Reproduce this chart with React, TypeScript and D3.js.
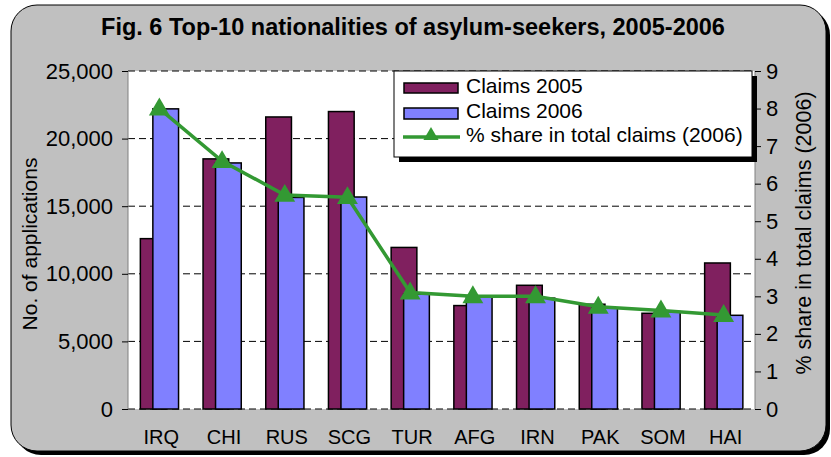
import { useEffect, useRef } from 'react';
import { scaleBand, scaleLinear, select, axisLeft, axisRight, line } from 'd3';

const categories = ['IRQ', 'CHI', 'RUS', 'SCG', 'TUR', 'AFG', 'IRN', 'PAK', 'SOM', 'HAI'];
const claims2005 = [12600, 18500, 21600, 22000, 11950, 7650, 9150, 7750, 7080, 10800];
const claims2006 = [22200, 18200, 15650, 15680, 8500, 8300, 8200, 7470, 7200, 6930];
const share2006 = [8.0, 6.6, 5.7, 5.64, 3.1, 3.0, 3.0, 2.72, 2.62, 2.5];
const leftTicks = [0, 5000, 10000, 15000, 20000, 25000];
const rightTicks = [0, 1, 2, 3, 4, 5, 6, 7, 8, 9];

const W = 831;
const H = 457;
const plot = { left: 128, right: 755, top: 71, bottom: 409 };
const font = '"Liberation Sans", Arial, sans-serif';

export default function App() {
    const leftRef = useRef(null);
    const rightRef = useRef(null);

    const x = scaleBand().domain(categories).range([plot.left, plot.right]).padding(0);
    const y = scaleLinear().domain([0, 25000]).range([plot.bottom, plot.top]);
    const y2 = scaleLinear().domain([0, 9]).range([plot.bottom, plot.top]);

    const step = x.step();
    const barW = step * 0.41;
    const center = (c) => x(c) + step / 2;

    const path = line()
        .x((d, i) => center(categories[i]))
        .y((d) => y2(d));

    useEffect(() => {
        const fmt = (v) => v.toLocaleString('en-US');
        const l = select(leftRef.current)
            .attr('transform', `translate(${plot.left},0)`)
            .call(axisLeft(y).tickValues(leftTicks).tickFormat(fmt).tickSize(6).tickPadding(9));
        l.select('.domain').attr('stroke', '#808080').attr('d', `M0,${plot.top}V${plot.bottom}`);
        l.selectAll('line').attr('stroke', '#000');
        l.selectAll('text').attr('font-family', font).attr('font-size', 22).attr('fill', '#000');

        const r = select(rightRef.current)
            .attr('transform', `translate(${plot.right},0)`)
            .call(axisRight(y2).tickValues(rightTicks).tickSize(6).tickPadding(5));
        r.select('.domain').attr('stroke', '#808080').attr('d', `M0,${plot.top}V${plot.bottom}`);
        r.selectAll('line').attr('stroke', '#000');
        r.selectAll('text').attr('font-family', font).attr('font-size', 22).attr('fill', '#000');
    }, []);

    const tri = (cx, cy, s) => `M${cx},${cy - s}L${cx + s * 0.95},${cy + s * 0.62}L${cx - s * 0.95},${cy + s * 0.62}Z`;

    return (
        <svg width={W} height={H} style={{ position: 'absolute', left: 0, top: 0 }}>
            {/* frame with shadow */}
            <rect x={15} y={9} width={815} height={446} rx={26} fill="#000" />
            <rect x={11} y={5} width={815} height={446} rx={26} fill="#C0C0C0" stroke="#000" strokeWidth={1} />

            <text x={413} y={35} textAnchor="middle" fontFamily={font} fontWeight="bold" fontSize={23.5}>
                Fig. 6 Top-10 nationalities of asylum-seekers, 2005-2006
            </text>

            <rect x={plot.left} y={plot.top} width={plot.right - plot.left} height={plot.bottom - plot.top} fill="#fff" />

            {leftTicks.map((t) => (
                <line key={t} x1={plot.left} x2={plot.right} y1={y(t)} y2={y(t)}
                    stroke="#000" strokeWidth={1} strokeDasharray="7,4" />
            ))}

            {categories.map((c, i) => (
                <g key={c}>
                    <rect x={center(c) - 19} y={y(claims2005[i])} width={barW}
                        height={plot.bottom - y(claims2005[i])} fill="#80205F" stroke="#000" strokeWidth={1.5} />
                    <rect x={center(c) - 6.5} y={y(claims2006[i])} width={barW}
                        height={plot.bottom - y(claims2006[i])} fill="#8080FF" stroke="#000" strokeWidth={1.5} />
                </g>
            ))}

            <path d={path(share2006)} fill="none" stroke="#339933" strokeWidth={3.5} />
            {share2006.map((v, i) => (
                <path key={i} d={tri(center(categories[i]), y2(v), 11)} fill="#339933" />
            ))}

            <g ref={leftRef}></g>
            <g ref={rightRef}></g>

            {categories.map((c) => (
                <text key={c} x={center(c) + 2} y={444} textAnchor="middle"
                    fontFamily='"Liberation Sans Narrow", "Liberation Sans", Arial, sans-serif' fontSize={20}>
                    {c}
                </text>
            ))}

            <text transform="translate(37,244) rotate(-90)" textAnchor="middle" fontFamily={font} fontSize={21}>
                No. of applications
            </text>
            <text transform="translate(811,233) rotate(-90)" textAnchor="middle" fontFamily={font} fontSize={21.5}>
                % share in total claims (2006)
            </text>

            {/* legend */}
            <rect x={399} y={76} width={358} height={86} fill="#000" />
            <rect x={394} y={71} width={358} height={86} fill="#fff" stroke="#000" strokeWidth={1} />
            <rect x={404} y={83} width={54} height={10} fill="#80205F" stroke="#000" strokeWidth={1.5} />
            <text x={466} y={93} fontFamily={font} fontSize={21}>Claims 2005</text>
            <rect x={404} y={108} width={54} height={11} fill="#8080FF" stroke="#000" strokeWidth={1.5} />
            <text x={466} y={118} fontFamily={font} fontSize={21}>Claims 2006</text>
            <line x1={403} x2={460} y1={137} y2={137} stroke="#339933" strokeWidth={3.5} />
            <path d={tri(431, 135, 8)} fill="#339933" />
            <text x={466} y={142} fontFamily={font} fontSize={21}>% share in total claims (2006)</text>
        </svg>
    );
}
